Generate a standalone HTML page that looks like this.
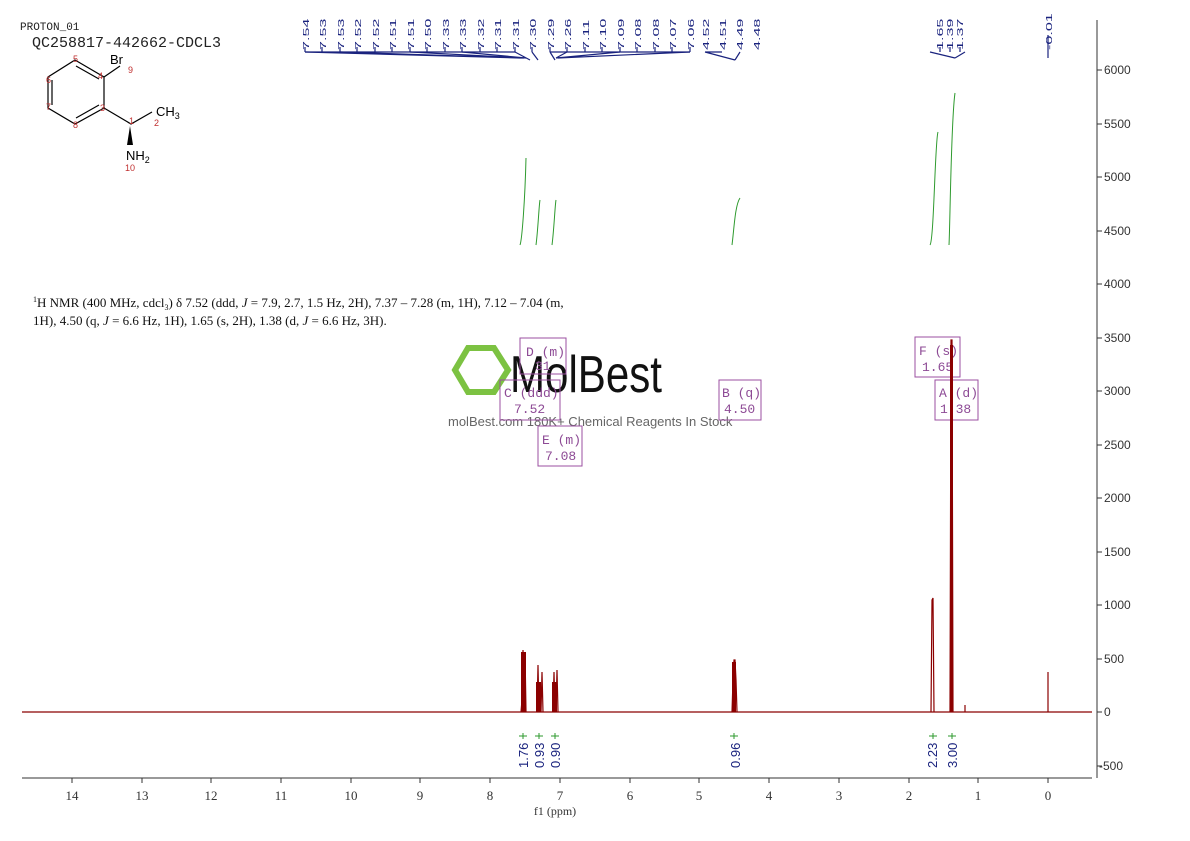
<!DOCTYPE html><html><head><style>body{margin:0;background:#fff}svg{display:block}</style></head><body>
<svg width="1190" height="841" xmlns="http://www.w3.org/2000/svg" font-family="Liberation Serif, serif">
<rect width="1190" height="841" fill="#fff"/>
<text x="20" y="30" font-size="11" font-family="Liberation Mono, monospace" fill="#222">PROTON_01</text>
<text x="32" y="47" font-size="15" font-family="Liberation Mono, monospace" fill="#222">QC258817-442662-CDCL3</text>
<g stroke="#000" stroke-width="1.2" fill="none">
<path d="M75 60 L104 77 L104 108 L75 124 L48 108 L48 77 Z"/>
<path d="M76 66 L99 79 M52 80 L52 105 M76 118 L99 105"/>
<path d="M104 77 L120 66 M104 108 L131 124 L152 112"/>
</g>
<polygon points="130,126 127,145 133,145" fill="#000"/>
<g font-family="Liberation Sans, sans-serif">
<text x="110" y="64" font-size="13">Br</text><text x="156" y="116" font-size="13">CH<tspan font-size="9" dy="3">3</tspan></text>
<text x="126" y="160" font-size="13">NH<tspan font-size="9" dy="3">2</tspan></text>
<g fill="#c03030" font-size="9"><text x="73" y="62">5</text><text x="46" y="83">6</text><text x="46" y="110">7</text><text x="73" y="128">8</text><text x="98" y="79">4</text><text x="100" y="111">3</text><text x="129" y="124">1</text><text x="154" y="126">2</text><text x="128" y="73">9</text><text x="125" y="171">10</text></g>
</g>
<g stroke="#1a237e" stroke-width="1.2" fill="none">
<path d="M305 52V47M322 52V47M340 52V47M357 52V47M375 52V47M392 52V47M410 52V47M427 52V47M445 52V47M462 52V47M480 52V47M497 52V47M515 52V47M532 52V47M550 52V47M567 52V47M585 52V47M602 52V47M620 52V47M637 52V47M655 52V47M672 52V47M690 52V47"/>
<path d="M305 52L520 58M340 52L522 58M410 52L524 58M462 52L526 58M515 52L530 60M532 52L538 60M550 52L555 60M567 52L556 58M620 52L556 58M690 52L558 58"/>
<path d="M305 52H515M550 52H690M705 52H722M705 52L735 60M740 52L735 60"/>
<path d="M940 52V47M950 52V47M960 52V47M930 52L955 58M965 52L955 58M1048 58V35"/>
</g>
<g fill="#1a237e" font-size="17" font-family="Liberation Sans, sans-serif">
<text transform="translate(309,50) rotate(-90) scale(0.95,0.5)">7.54</text>
<text transform="translate(326,50) rotate(-90) scale(0.95,0.5)">7.53</text>
<text transform="translate(344,50) rotate(-90) scale(0.95,0.5)">7.53</text>
<text transform="translate(361,50) rotate(-90) scale(0.95,0.5)">7.52</text>
<text transform="translate(379,50) rotate(-90) scale(0.95,0.5)">7.52</text>
<text transform="translate(396,50) rotate(-90) scale(0.95,0.5)">7.51</text>
<text transform="translate(414,50) rotate(-90) scale(0.95,0.5)">7.51</text>
<text transform="translate(431,50) rotate(-90) scale(0.95,0.5)">7.50</text>
<text transform="translate(449,50) rotate(-90) scale(0.95,0.5)">7.33</text>
<text transform="translate(466,50) rotate(-90) scale(0.95,0.5)">7.33</text>
<text transform="translate(484,50) rotate(-90) scale(0.95,0.5)">7.32</text>
<text transform="translate(501,50) rotate(-90) scale(0.95,0.5)">7.31</text>
<text transform="translate(519,50) rotate(-90) scale(0.95,0.5)">7.31</text>
<text transform="translate(536,50) rotate(-90) scale(0.95,0.5)">7.30</text>
<text transform="translate(554,50) rotate(-90) scale(0.95,0.5)">7.29</text>
<text transform="translate(571,50) rotate(-90) scale(0.95,0.5)">7.26</text>
<text transform="translate(589,50) rotate(-90) scale(0.95,0.5)">7.11</text>
<text transform="translate(606,50) rotate(-90) scale(0.95,0.5)">7.10</text>
<text transform="translate(624,50) rotate(-90) scale(0.95,0.5)">7.09</text>
<text transform="translate(641,50) rotate(-90) scale(0.95,0.5)">7.08</text>
<text transform="translate(659,50) rotate(-90) scale(0.95,0.5)">7.08</text>
<text transform="translate(676,50) rotate(-90) scale(0.95,0.5)">7.07</text>
<text transform="translate(694,50) rotate(-90) scale(0.95,0.5)">7.06</text>
<text transform="translate(709,50) rotate(-90) scale(0.95,0.5)">4.52</text>
<text transform="translate(726,50) rotate(-90) scale(0.95,0.5)">4.51</text>
<text transform="translate(743,50) rotate(-90) scale(0.95,0.5)">4.49</text>
<text transform="translate(760,50) rotate(-90) scale(0.95,0.5)">4.48</text>
<text transform="translate(943,50) rotate(-90) scale(0.95,0.5)">1.65</text>
<text transform="translate(953,50) rotate(-90) scale(0.95,0.5)">1.39</text>
<text transform="translate(963,50) rotate(-90) scale(0.95,0.5)">1.37</text>
<text transform="translate(1052,50) rotate(-90) scale(0.95,0.5)">-0.01</text>
</g>
<g stroke="#2e9a2e" stroke-width="1" fill="none">
<path d="M520 245 C522 240 525 200 526 158"/>
<path d="M536 245 C538 230 539 205 540 200"/>
<path d="M552 245 C554 230 555 205 556 200"/>
<path d="M732 245 C734 230 735 205 740 198"/>
<path d="M930 245 C934 240 935 140 938 132"/>
<path d="M949 245 C950 230 951 120 955 93"/>
</g>
<text x="33" y="307" font-size="13" fill="#111"><tspan font-size="8" dy="-5">1</tspan><tspan dy="5">H NMR (400 MHz, cdcl</tspan><tspan font-size="8" dy="3">3</tspan><tspan dy="-3">) δ 7.52 (ddd, </tspan><tspan font-style="italic">J</tspan> = 7.9, 2.7, 1.5 Hz, 2H), 7.37 – 7.28 (m, 1H), 7.12 – 7.04 (m,</text>
<text x="33" y="325" font-size="13" fill="#111">1H), 4.50 (q, <tspan font-style="italic">J</tspan> = 6.6 Hz, 1H), 1.65 (s, 2H), 1.38 (d, <tspan font-style="italic">J</tspan> = 6.6 Hz, 3H).</text>
<g stroke="#7cc242" stroke-width="6" fill="none"><path d="M468 348 L494 348 L508 370 L494 392 L468 392 L455 370 Z"/></g>
<text x="510" y="392" font-size="52" font-family="Liberation Sans Narrow, Liberation Sans, sans-serif" fill="#111" textLength="152" lengthAdjust="spacingAndGlyphs">MolBest</text>
<text x="448" y="426" font-size="13" font-family="Liberation Sans, sans-serif" fill="#666">molBest.com 180K+ Chemical Reagents In Stock</text>
<g stroke="#9b4fa0" fill="none" stroke-width="1"><rect x="520" y="338" width="46" height="36"/><rect x="500" y="380" width="60" height="40"/><rect x="538" y="426" width="44" height="40"/><rect x="719" y="380" width="42" height="40"/><rect x="915" y="337" width="45" height="40"/><rect x="935" y="380" width="43" height="40"/></g>
<g fill="#8d4a95" font-size="13" font-family="Liberation Mono, monospace">
<text x="526" y="356">D (m)</text><text x="535" y="370">31</text>
<text x="504" y="397">C (ddd)</text><text x="514" y="413">7.52</text>
<text x="542" y="444">E (m)</text><text x="545" y="460">7.08</text>
<text x="722" y="397">B (q)</text><text x="724" y="413">4.50</text>
<text x="919" y="355">F (s)</text><text x="922" y="371">1.65</text>
<text x="939" y="397">A (d)</text><text x="940" y="413">1.38</text>
</g>
<g stroke="#8b0000" stroke-width="1.2" fill="none">
<path d="M22 712 H1092"/>
<path d="M521 712 L522 700 L523 650 L524 700 L525 652 L526 712"/>
<path d="M537 712 L538 665 L539 712 M541 712 L542 672 L543 712"/>
<path d="M553 712 L554 672 L555 712 M556 712 L557 670 L558 712"/>
<path d="M732 712 L733 680 L734 660 L735 660 L736 680 L737 712"/>
<path d="M931 712 L932 600 L933 598 L934 712"/>
<path d="M950 712 L951 340 L952 340 L953 712"/>
<path d="M1048 712 V672 M965 712 V705"/>
</g>
<g fill="#8b0000"><rect x="521" y="652" width="5" height="60"/><rect x="536" y="682" width="5" height="30"/><rect x="552" y="682" width="5" height="30"/><rect x="732" y="662" width="4" height="50"/><rect x="950" y="345" width="3" height="367"/></g>
<g fill="#1a237e" font-size="13" font-family="Liberation Sans, sans-serif">
<text transform="translate(528,768) rotate(-90)">1.76</text>
<text transform="translate(544,768) rotate(-90)">0.93</text>
<text transform="translate(560,768) rotate(-90)">0.90</text>
<text transform="translate(740,768) rotate(-90)">0.96</text>
<text transform="translate(937,768) rotate(-90)">2.23</text>
<text transform="translate(957,768) rotate(-90)">3.00</text>
</g>
<g stroke="#2e9a2e" stroke-width="1"><path d="M519 736H527M523 733V739M535 736H543M539 733V739M551 736H559M555 733V739M730 736H738M734 733V739M929 736H937M933 733V739M948 736H956M952 733V739"/></g>
<g stroke="#333" stroke-width="1" fill="none">
<path d="M22 778H1092"/>
<path d="M1097 20V778"/>
<path d="M1097 70h5M1097 124h5M1097 177h5M1097 231h5M1097 284h5M1097 338h5M1097 391h5M1097 445h5M1097 498h5M1097 552h5M1097 605h5M1097 659h5M1097 712h5M1097 766h5"/>
<path d="M72 778v5M142 778v5M211 778v5M281 778v5M351 778v5M420 778v5M490 778v5M560 778v5M630 778v5M699 778v5M769 778v5M839 778v5M909 778v5M978 778v5M1048 778v5"/>
</g>
<g font-size="12" fill="#333" font-family="Liberation Sans, sans-serif">
<text x="1104" y="74">6000</text><text x="1104" y="128">5500</text><text x="1104" y="181">5000</text><text x="1104" y="235">4500</text><text x="1104" y="288">4000</text><text x="1104" y="342">3500</text><text x="1104" y="395">3000</text><text x="1104" y="449">2500</text><text x="1104" y="502">2000</text><text x="1104" y="556">1500</text><text x="1104" y="609">1000</text><text x="1104" y="663">500</text><text x="1104" y="716">0</text><text x="1099" y="770">-500</text>
</g>
<g font-size="13" fill="#333" text-anchor="middle">
<text x="72" y="800">14</text><text x="142" y="800">13</text><text x="211" y="800">12</text><text x="281" y="800">11</text><text x="351" y="800">10</text><text x="420" y="800">9</text><text x="490" y="800">8</text><text x="560" y="800">7</text><text x="630" y="800">6</text><text x="699" y="800">5</text><text x="769" y="800">4</text><text x="839" y="800">3</text><text x="909" y="800">2</text><text x="978" y="800">1</text><text x="1048" y="800">0</text>
<text x="555" y="815" font-size="12">f1 (ppm)</text>
</g>
</svg>
</body></html>
